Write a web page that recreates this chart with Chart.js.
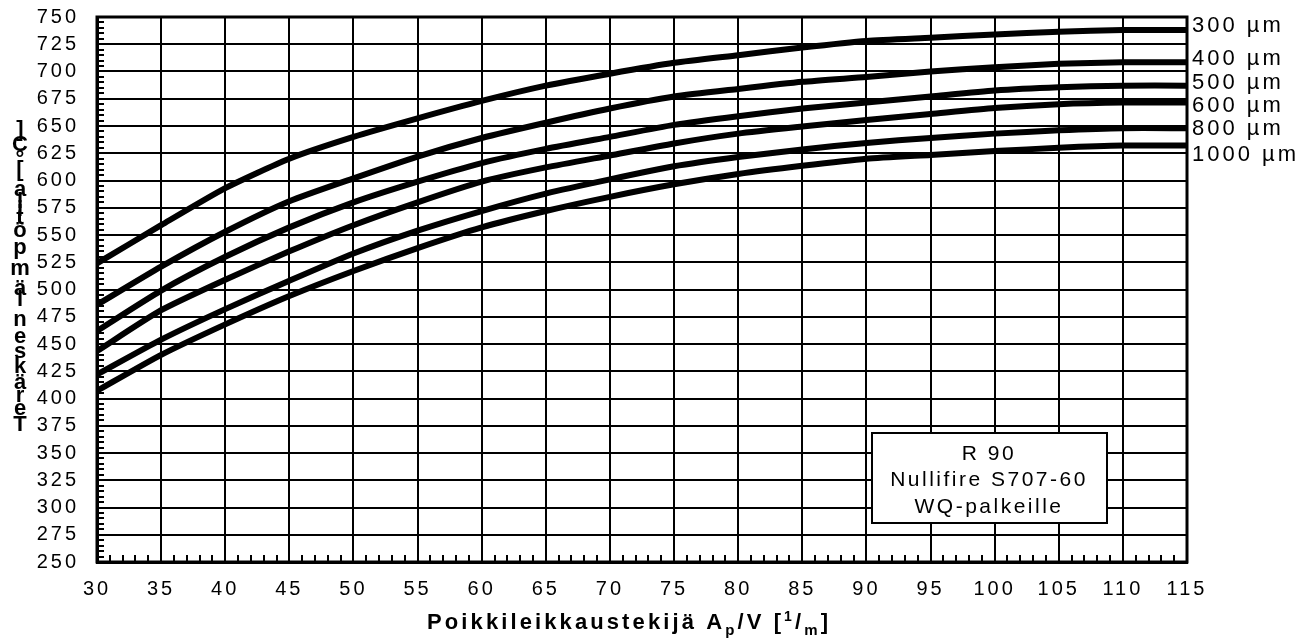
<!DOCTYPE html>
<html lang="fi">
<head>
<meta charset="UTF-8">
<title>R 90 Nullifire S707-60 WQ-palkeille</title>
<script src="https://cdn.jsdelivr.net/npm/chart.js"></script>
<style>
  html, body { margin: 0; padding: 0; background: #fff; }
  #wrap { width: 1314px; height: 644px; }
</style>
</head>
<body>
<div id="wrap"><canvas id="chart" width="1314" height="644"></canvas></div>
<script>
// section factor Ap/V [1/m]
const apv = [30, 35, 40, 45, 50, 55, 60, 65, 70, 75, 80, 85, 90, 95, 100, 105, 110, 115];
const thickness = ['300 µm', '400 µm', '500 µm', '600 µm', '800 µm', '1000 µm'];

// steel temperature per coating thickness
const t300 = [524, 559, 593, 620, 640, 657, 673, 687, 698, 708, 715, 722, 728, 731, 734, 736.5, 738, 738];
const t400 = [486, 521, 553, 581, 602, 622, 639, 653, 666, 677, 684, 690.5, 695, 700, 704, 707, 708.5, 708.5];
const t500 = [462, 499, 530, 557, 580, 599, 616, 629, 640, 651, 659, 666, 671.5, 677, 682.5, 685.5, 687, 687];
const t600 = [443.5, 481, 509, 535, 559, 580, 599, 612, 623, 634, 643, 649.5, 655.5, 661, 666.5, 670, 671.5, 671.5];
const t800 = [422, 454, 482, 508, 533, 554, 572, 588, 601, 613, 621.5, 628.5, 634.5, 639, 643, 646, 648, 648];
const t1000 = [407, 440, 468, 494, 517, 538, 557, 572, 585, 596.5, 606, 613.5, 620, 623.5, 627, 630, 632, 632];

const series = [t300, t400, t500, t600, t800, t1000];
const boxLines = ['R 90', 'Nullifire S707-60', 'WQ-palkeille'];
const yTitle = 'Teräksen lämpötila [°C]';

const FONT = '"Liberation Sans", Arial, sans-serif';
const TICK_SPACING = '3px';

// label anchors (in temperature units) for the curve names on the right
const labelAnchors = [744, 713, 691, 670, 649, 625];

const decorations = {
  id: 'decorations',
  beforeUpdate(chart) { chart.ctx.letterSpacing = TICK_SPACING; },
  beforeDraw(chart) { chart.ctx.letterSpacing = TICK_SPACING; },
  afterDatasetsDraw(chart) {
    const ctx = chart.ctx;
    const x = chart.scales.x, y = chart.scales.y;
    const a = chart.chartArea;
    ctx.save();

    // minor ticks, inside the plot
    ctx.strokeStyle = '#000';
    ctx.lineWidth = 2;
    ctx.beginPath();
    for (let v = 255; v < 750; v += 5) {
      const py = Math.round(y.getPixelForValue(v));
      ctx.moveTo(a.left, py);
      ctx.lineTo(a.left + 7, py);
    }
    for (let v = 31; v < 115; v++) {
      const px = Math.round(x.getPixelForValue(v));
      ctx.moveTo(px, a.bottom);
      ctx.lineTo(px, a.bottom - 7);
    }
    ctx.stroke();

    // frame
    ctx.lineWidth = 3;
    ctx.strokeRect(a.left, a.top, a.right - a.left, a.bottom - a.top);

    // info box
    ctx.fillStyle = '#fff';
    ctx.fillRect(872, 433, 235, 90);
    ctx.lineWidth = 2;
    ctx.strokeRect(872, 433, 235, 90);
    ctx.fillStyle = '#000';
    ctx.font = '21px ' + FONT;
    ctx.letterSpacing = '2.5px';
    ctx.textAlign = 'center';
    ctx.textBaseline = 'middle';
    boxLines.forEach((t, i) => ctx.fillText(t, 989, 454 + i * 26.5));

    // curve names
    ctx.font = '22px ' + FONT;
    ctx.letterSpacing = '3px';
    ctx.textAlign = 'left';
    ctx.textBaseline = 'alphabetic';
    thickness.forEach((t, i) => {
      ctx.fillText(t, a.right + 5, y.getPixelForValue(labelAnchors[i]) + 8);
    });

    // x axis title with sub/superscripts
    const parts = [
      { t: 'Poikkileikkaustekijä A', s: 22, dy: 0 },
      { t: 'p', s: 15, dy: 6 },
      { t: '/V [', s: 22, dy: 0 },
      { t: '1', s: 14, dy: -8 },
      { t: '/', s: 22, dy: 0 },
      { t: 'm', s: 15, dy: 6 },
      { t: ']', s: 22, dy: 0 }
    ];
    ctx.letterSpacing = '0px';
    let natural = 0, count = 0;
    parts.forEach(p => {
      ctx.font = 'bold ' + p.s + 'px ' + FONT;
      p.w = ctx.measureText(p.t).width;
      natural += p.w;
      count += p.t.length;
    });
    const target = 401;
    const sp = (target - natural) / (count - 1);
    let cx = 627.5 - target / 2;
    ctx.letterSpacing = sp + 'px';
    parts.forEach(p => {
      ctx.font = 'bold ' + p.s + 'px ' + FONT;
      ctx.fillText(p.t, cx, 629 + p.dy);
      cx += p.w + sp * p.t.length;
    });

    // y axis title: upright letters stacked bottom to top
    ctx.letterSpacing = '0px';
    ctx.font = 'bold 22px ' + FONT;
    ctx.textAlign = 'center';
    ctx.textBaseline = 'middle';
    const chars = Array.from(yTitle);
    const w = chars.map(c => ctx.measureText(c).width);
    const centers = [];
    let acc = 0;
    w.forEach(cw => { centers.push(acc + cw / 2); acc += cw; });
    const k = (425 - 130) / (centers[centers.length - 1] - centers[0]);
    chars.forEach((c, i) => {
      if (c === ' ') return;
      ctx.fillText(c, 20, 425 - (centers[i] - centers[0]) * k);
    });

    ctx.restore();
    ctx.letterSpacing = TICK_SPACING;
  }
};

new Chart(document.getElementById('chart'), {
  type: 'line',
  data: {
    datasets: series.map((d, i) => ({
      label: thickness[i],
      data: apv.map((v, j) => ({ x: v, y: d[j] })),
      borderColor: '#000',
      borderWidth: 6,
      pointRadius: 0,
      tension: 0.2,
      fill: false
    }))
  },
  options: {
    responsive: false,
    animation: false,
    devicePixelRatio: 1,
    layout: { padding: { left: 0, right: 127, top: 17, bottom: 0 } },
    plugins: { legend: { display: false }, tooltip: { enabled: false } },
    scales: {
      x: {
        type: 'linear',
        min: 30,
        max: 115,
        afterFit(scale) {
          scale.height = 82;
          scale.paddingLeft = 0;
          scale.paddingRight = 0;
        },
        ticks: {
          stepSize: 5,
          autoSkip: false,
          color: '#000',
          padding: 15,
          maxRotation: 0,
          font: { family: FONT, size: 20 }
        },
        grid: { color: '#000', lineWidth: 2, drawTicks: false },
        border: { color: '#000', width: 3 }
      },
      y: {
        min: 250,
        max: 750,
        afterFit(scale) {
          scale.width = 97;
          scale.paddingTop = 0;
          scale.paddingBottom = 0;
        },
        ticks: {
          stepSize: 25,
          autoSkip: false,
          color: '#000',
          padding: 18,
          font: { family: FONT, size: 20 }
        },
        grid: { color: '#000', lineWidth: 2, drawTicks: false },
        border: { color: '#000', width: 3 }
      }
    }
  },
  plugins: [decorations]
});
</script>
</body>
</html>
